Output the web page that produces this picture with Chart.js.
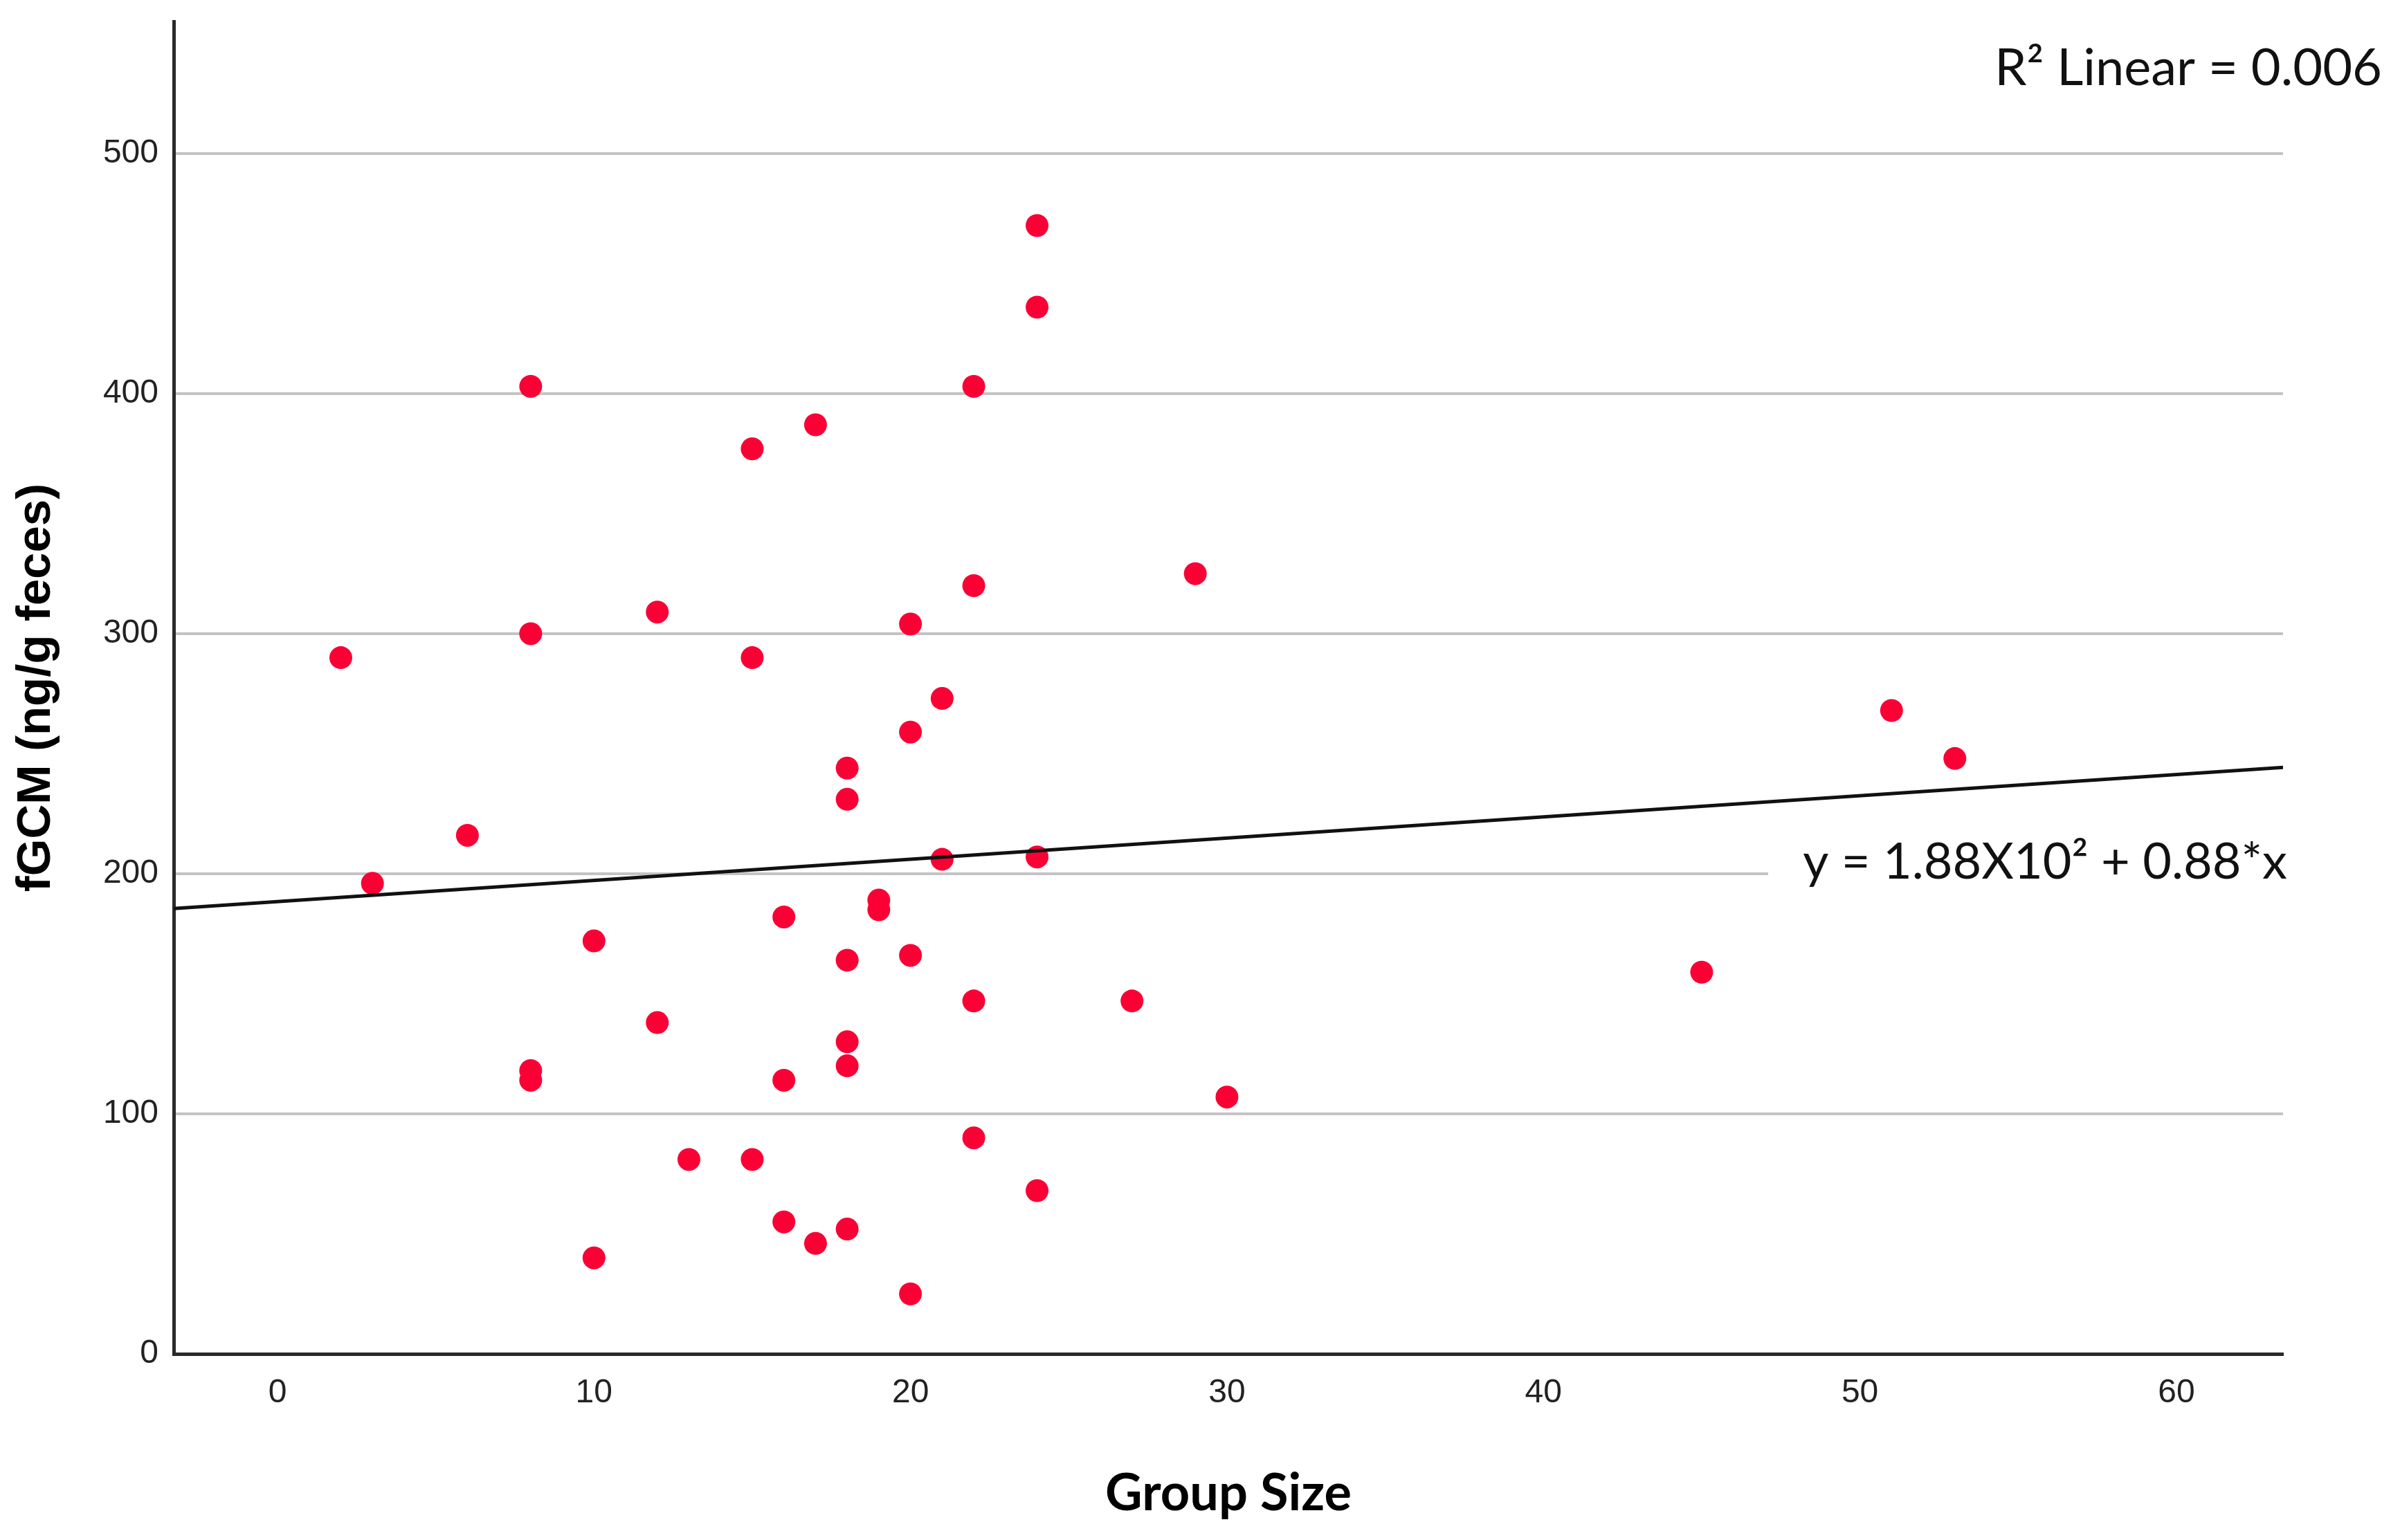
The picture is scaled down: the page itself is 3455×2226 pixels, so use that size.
<!DOCTYPE html>
<html>
<head>
<meta charset="utf-8">
<script src="https://cdn.jsdelivr.net/npm/chart.js@4.4.1/dist/chart.umd.min.js"></script>
<style>
  html, body { margin: 0; padding: 0; background: #fff; }
  canvas { display: block; }
</style>
</head>
<body>
<canvas id="grafico" width="3455" height="2226"></canvas>
<script>
// values
const groupSize = [2, 3, 6, 8, 8, 8, 8, 10, 10, 12, 12, 13, 15, 15, 15, 16, 16, 16, 17, 17,
    18, 18, 18, 18, 18, 18, 19, 19, 20, 20, 20, 20, 21, 21, 22, 22, 22, 22, 24, 24, 24, 24,
    27, 29, 30, 45, 51, 53];
const fgcm = [290, 196, 216, 403, 300, 118, 114, 172, 40, 309, 138, 81, 377, 290, 81, 182, 114, 55, 387, 46,
    244, 231, 164, 130, 120, 52, 189, 185, 304, 259, 166, 25, 273, 206, 403, 320, 147, 90, 470, 436, 207, 68,
    147, 325, 107, 159, 268, 248];

// fit line end points (read at the axis edges)
const fitX = [-3.28, 63.37];
const fitY = [185.5, 244.3];

const xTicks = [0, 10, 20, 30, 40, 50, 60];
const yTicks = [0, 100, 200, 300, 400, 500];

const r2Text = 'R\u00B2 Linear = 0.006';
const eqText = 'y = 1.88X10\u00B2 + 0.88*x';

const puntos = groupSize.map((g, i) => ({ x: g, y: fgcm[i] }));
const linea = fitX.map((v, i) => ({ x: v, y: fitY[i] }));

// labels drawn on top of the plot (equation box hides the 200 grid line)
const etiquetas = {
    id: 'etiquetas',
    afterDatasetsDraw(chart) {
        const ctx = chart.ctx;
        const xs = chart.scales.x;
        const ys = chart.scales.y;
        ctx.save();

        const boxLeft = xs.getPixelForValue(47.1);
        const y200 = ys.getPixelForValue(200);
        ctx.fillStyle = '#fff';
        ctx.fillRect(boxLeft, y200 - 50, chart.width - boxLeft, 100);

        ctx.fillStyle = '#111';
        ctx.textBaseline = 'middle';
        ctx.font = '72px Lato';
        ctx.textAlign = 'left';
        ctx.fillText(eqText, xs.getPixelForValue(48.2), y200 - 16);

        ctx.font = '74px Lato';
        ctx.textAlign = 'right';
        ctx.fillText(r2Text, chart.width - 13, 99);
        ctx.restore();
    }
};

const ctx = document.getElementById('grafico').getContext('2d');

new Chart(ctx, {
    type: 'scatter',
    data: {
        datasets: [{
            label: 'fGCM',
            data: puntos,
            pointRadius: 16.5,
            pointHoverRadius: 16.5,
            pointBackgroundColor: 'rgb(250, 0, 52)',
            pointBorderWidth: 0,
            order: 2
        }, {
            type: 'line',
            label: 'Linear',
            data: linea,
            borderColor: '#111',
            borderWidth: 5,
            pointRadius: 0,
            fill: false,
            order: 1
        }]
    },
    options: {
        responsive: false,
        devicePixelRatio: 1,
        animation: false,
        layout: { padding: { top: 31, right: 156, bottom: 0, left: 0 } },
        plugins: {
            legend: { display: false },
            tooltip: { enabled: false }
        },
        scales: {
            x: {
                type: 'linear',
                min: -3.28,
                max: 63.37,
                afterFit: (scale) => {
                    scale.height = 269;
                    scale.paddingLeft = 0;
                    scale.paddingRight = 0;
                },
                afterBuildTicks: (scale) => { scale.ticks = xTicks.map(v => ({ value: v })); },
                grid: { display: false, drawTicks: false },
                border: { display: true, color: '#2a2a2a', width: 5 },
                ticks: {
                    padding: 28,
                    maxRotation: 0,
                    color: '#222',
                    font: { family: 'Liberation Sans', size: 48 }
                },
                title: {
                    display: true,
                    text: 'Group Size',
                    color: '#000',
                    font: { family: 'Lato', size: 74, weight: 'bold' },
                    padding: { top: 0, bottom: 22 }
                }
            },
            y: {
                type: 'linear',
                min: 0,
                max: 555,
                afterFit: (scale) => {
                    scale.width = 251;
                    scale.paddingTop = 0;
                    scale.paddingBottom = 0;
                },
                afterBuildTicks: (scale) => { scale.ticks = yTicks.map(v => ({ value: v })); },
                grid: {
                    drawTicks: false,
                    lineWidth: 4,
                    color: (c) => c.tick && c.tick.value === 0 ? 'rgba(0,0,0,0)' : '#c3c3c3'
                },
                border: { display: true, color: '#2a2a2a', width: 5 },
                ticks: {
                    padding: 22,
                    color: '#222',
                    font: { family: 'Liberation Sans', size: 48 }
                },
                title: {
                    display: true,
                    text: 'fGCM (ng/g feces)',
                    color: '#000',
                    font: { family: 'Liberation Sans', size: 69, weight: 'bold' },
                    padding: { top: 12, bottom: 0 }
                }
            }
        }
    },
    plugins: [etiquetas]
});
</script>
</body>
</html>
